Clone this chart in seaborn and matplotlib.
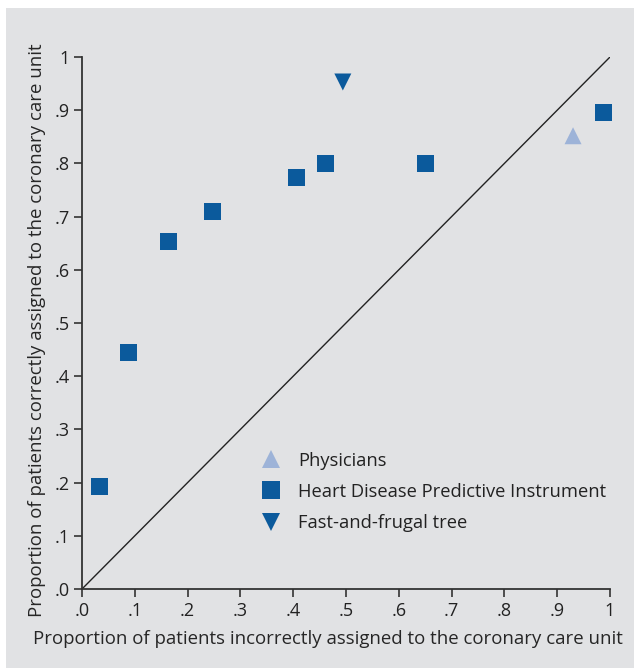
import matplotlib
matplotlib.use('Agg')
import seaborn as sns
import matplotlib.pyplot as plt
import pandas as pd

# values
hdpi_x = [0.034, 0.089, 0.163, 0.248, 0.407, 0.462, 0.65, 0.987]
hdpi_y = [0.192, 0.445, 0.654, 0.709, 0.774, 0.799, 0.80, 0.895]
phys_x = [0.93]
phys_y = [0.852]
fft_x = [0.494]
fft_y = [0.953]
ticks = [0, 0.1, 0.2, 0.3, 0.4, 0.5, 0.6, 0.7, 0.8, 0.9, 1.0]
tick_labels = ['.0', '.1', '.2', '.3', '.4', '.5', '.6', '.7', '.8', '.9', '1']

groups = ['Physicians', 'Heart Disease Predictive Instrument', 'Fast-and-frugal tree']
df = pd.DataFrame({
    'x': phys_x + hdpi_x + fft_x,
    'y': phys_y + hdpi_y + fft_y,
    'group': [groups[0]] * len(phys_x) + [groups[1]] * len(hdpi_x) + [groups[2]] * len(fft_x),
})

sns.set_style('white')
plt.rcParams['font.family'] = ['Open Sans', 'DejaVu Sans']
plt.rcParams['text.color'] = '#222222'

bg = '#e1e2e4'
fig = plt.figure(figsize=(6.34, 6.71), dpi=100, facecolor='white')
# grey panel with a thin white margin, kept behind the axes
fig.patches.append(plt.Rectangle((6 / 634, 3 / 671), 1, 660 / 671, transform=fig.transFigure,
                                 facecolor=bg, edgecolor='none', zorder=-10))
ax = fig.add_axes([82 / 634, 82 / 671, 528 / 634, 532 / 671])
ax.set_facecolor(bg)

# diagonal reference line
ax.plot([0, 1], [0, 1], color='#222222', lw=1.0, zorder=1)

sns.scatterplot(data=df, x='x', y='y', hue='group', style='group', hue_order=groups, style_order=groups,
                palette={groups[0]: '#9db3d8', groups[1]: '#0b5a9c', groups[2]: '#0b5a9c'},
                markers={groups[0]: '^', groups[1]: 's', groups[2]: 'v'},
                s=150, linewidth=0, clip_on=False, zorder=3, ax=ax)

ax.set_xlim(0, 1)
ax.set_ylim(0, 1)
ax.set_xticks(ticks)
ax.set_xticklabels(tick_labels)
ax.set_yticks(ticks)
ax.set_yticklabels(tick_labels)
ax.tick_params(axis='both', direction='out', length=6, width=1.2, color='#333333',
               labelsize=13, labelcolor='#222222', pad=3, left=True, bottom=True)
sns.despine(ax=ax)
for side in ['left', 'bottom']:
    ax.spines[side].set_color('#333333')
    ax.spines[side].set_linewidth(1.3)

ax.set_xlabel('Proportion of patients incorrectly assigned to the coronary care unit', fontsize=13.4)
ax.set_ylabel('Proportion of patients correctly assigned to the coronary care unit', fontsize=13.4)
# the labels sit a little off-centre in the reference
ax.xaxis.set_label_coords(0.466, -0.077)
ax.yaxis.set_label_coords(-0.068, 0.487)

leg = ax.legend(loc='upper left', bbox_to_anchor=(0.309, 0.272), frameon=False, fontsize=13.2,
                handlelength=2.0, handletextpad=0.5, labelspacing=0.72, title=None,
                borderpad=0.4, borderaxespad=0)

plt.savefig('out.png', dpi=100, facecolor=fig.get_facecolor())
